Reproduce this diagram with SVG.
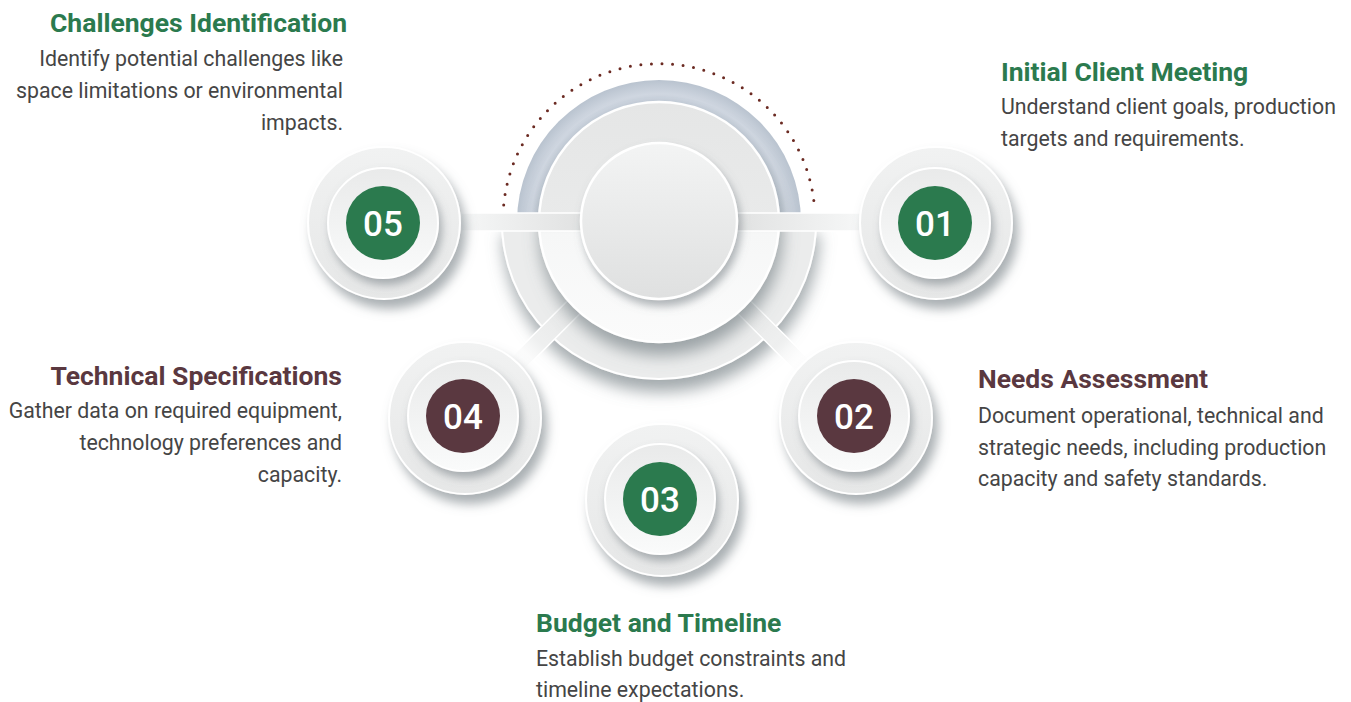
<svg xmlns="http://www.w3.org/2000/svg" width="1351" height="702" viewBox="0 0 1351 702">
<style>
.title{font-family:Roboto,"Liberation Sans",sans-serif;font-weight:700;font-size:26.5px}
.green{fill:#2b7a4e}
.maroon{fill:#5a3840}
.body{font-family:Roboto,"Liberation Sans",sans-serif;font-size:21.3px;fill:#454545}
.num{font-family:Roboto,"Liberation Sans",sans-serif;font-size:35px;font-weight:500;fill:#ffffff;text-anchor:middle}
.outer{fill:url(#gOuter);stroke:#ffffff;stroke-width:2}
.inner{fill:url(#gInner);stroke:#ffffff;stroke-width:2}
</style>
<defs>
<filter id="shSat" x="-40%" y="-40%" width="180%" height="180%">
<feDropShadow dx="5" dy="9" stdDeviation="5.5" flood-color="#6f7a80" flood-opacity="0.6"/>
</filter>
<filter id="shIn" x="-40%" y="-40%" width="180%" height="180%">
<feDropShadow dx="3" dy="6" stdDeviation="4" flood-color="#6f7a80" flood-opacity="0.55"/>
</filter>
<filter id="shBig" x="-30%" y="-30%" width="160%" height="170%">
<feDropShadow dx="2" dy="12" stdDeviation="8" flood-color="#6f7a80" flood-opacity="0.65"/>
</filter>
<linearGradient id="gOuter" x1="0" y1="0" x2="0" y2="1">
<stop offset="0" stop-color="#f1f2f2"/>
<stop offset="1" stop-color="#e6e7e7"/>
</linearGradient>
<linearGradient id="gInner" x1="0" y1="0" x2="0" y2="1">
<stop offset="0" stop-color="#e9eaea"/>
<stop offset="1" stop-color="#fafbfb"/>
</linearGradient>
<linearGradient id="gMid" x1="0" y1="0" x2="0" y2="1">
<stop offset="0" stop-color="#e5e6e6"/>
<stop offset="0.5" stop-color="#e9eaea"/>
<stop offset="0.55" stop-color="#f6f7f7"/>
<stop offset="1" stop-color="#fbfbfb"/>
</linearGradient>
<linearGradient id="gCenter" x1="0" y1="0" x2="0" y2="1">
<stop offset="0" stop-color="#f3f4f4"/>
<stop offset="1" stop-color="#dfe0e0"/>
</linearGradient>
<radialGradient id="gBlue" cx="659" cy="222" r="142" gradientUnits="userSpaceOnUse">
<stop offset="0.82" stop-color="#bcc6d2"/>
<stop offset="0.9" stop-color="#d0d7e1"/>
<stop offset="1" stop-color="#b9c3cf"/>
</radialGradient>
<linearGradient id="gBarL" x1="0" y1="0" x2="1" y2="0">
<stop offset="0" stop-color="#f6f7f7"/>
<stop offset="1" stop-color="#dfe0e0"/>
</linearGradient>
<linearGradient id="gBarR" x1="0" y1="0" x2="1" y2="0">
<stop offset="0" stop-color="#dfe0e0"/>
<stop offset="1" stop-color="#f6f7f7"/>
</linearGradient>
<linearGradient id="gDiag" x1="0" y1="0" x2="1" y2="0">
<stop offset="0" stop-color="#e2e3e3"/>
<stop offset="0.6" stop-color="#eeefef"/>
<stop offset="1" stop-color="#ffffff" stop-opacity="0"/>
</linearGradient>
<clipPath id="clipLow"><rect x="400" y="222" width="520" height="300"/></clipPath>
<clipPath id="clipUp"><rect x="400" y="0" width="520" height="222"/></clipPath>
</defs>

<g id="hub">
<path d="M 503.7 205 A 156 156 0 0 1 814.7 210" fill="none" stroke="#6b2a22" stroke-width="3" stroke-linecap="round" stroke-dasharray="0 10.6"/>
<g filter="url(#shBig)"><circle cx="659" cy="222" r="157" fill="#ebecec" stroke="#ffffff" stroke-width="2" clip-path="url(#clipLow)"/></g>
<circle cx="659" cy="222" r="142" fill="url(#gBlue)" clip-path="url(#clipUp)"/>
</g>

<g id="connectors">
<g transform="translate(659,222) rotate(135)"><rect x="100" y="-9" width="110" height="18" fill="url(#gDiag)" stroke="#ffffff" stroke-width="1.5"/></g>
<g transform="translate(659,222) rotate(45)"><rect x="100" y="-9" width="110" height="18" fill="url(#gDiag)" stroke="#ffffff" stroke-width="1.5"/></g>
</g>

<g id="hub-core">
<circle cx="659" cy="222" r="120" fill="url(#gMid)" stroke="#ffffff" stroke-width="2.5" filter="url(#shBig)"/>
<rect x="461" y="213" width="130" height="18" fill="url(#gBarL)" stroke="#ffffff" stroke-width="1.5"/>
<rect x="727" y="213" width="133" height="18" fill="url(#gBarR)" stroke="#ffffff" stroke-width="1.5"/>
<circle cx="659" cy="221" r="78" fill="url(#gCenter)" stroke="#ffffff" stroke-width="2.5" filter="url(#shIn)"/>
</g>

<g id="step01">
<circle cx="936" cy="223" r="76" class="outer" filter="url(#shSat)"/>
<circle cx="935" cy="223" r="55" class="inner" filter="url(#shIn)"/>
<circle cx="935" cy="223" r="37" class="green"/>
<text x="935" y="235.5" class="num">01</text>
<text x="1001" y="81" class="title green">Initial Client Meeting</text>
<text x="1001" y="114" class="body">Understand client goals, production</text>
<text x="1001" y="146" class="body">targets and requirements.</text>
</g>

<g id="step02">
<circle cx="856" cy="418" r="76" class="outer" filter="url(#shSat)"/>
<circle cx="854" cy="416" r="55" class="inner" filter="url(#shIn)"/>
<circle cx="854" cy="416" r="37" class="maroon"/>
<text x="854" y="428.5" class="num">02</text>
<text x="978" y="388" class="title maroon">Needs Assessment</text>
<text x="978" y="423" class="body">Document operational, technical and</text>
<text x="978" y="455" class="body">strategic needs, including production</text>
<text x="978" y="486" class="body">capacity and safety standards.</text>
</g>

<g id="step03">
<circle cx="662" cy="500" r="76" class="outer" filter="url(#shSat)"/>
<circle cx="660" cy="499" r="55" class="inner" filter="url(#shIn)"/>
<circle cx="660" cy="499" r="37" class="green"/>
<text x="660" y="511.5" class="num">03</text>
<text x="536" y="632" class="title green">Budget and Timeline</text>
<text x="536" y="666" class="body">Establish budget constraints and</text>
<text x="536" y="697" class="body">timeline expectations.</text>
</g>

<g id="step04">
<circle cx="465" cy="418" r="76" class="outer" filter="url(#shSat)"/>
<circle cx="463" cy="416" r="55" class="inner" filter="url(#shIn)"/>
<circle cx="463" cy="416" r="37" class="maroon"/>
<text x="463" y="428.5" class="num">04</text>
<text x="342" y="385" class="title maroon" text-anchor="end">Technical Specifications</text>
<text x="342" y="418" class="body" text-anchor="end">Gather data on required equipment,</text>
<text x="342" y="450" class="body" text-anchor="end">technology preferences and</text>
<text x="342" y="482" class="body" text-anchor="end">capacity.</text>
</g>

<g id="step05">
<circle cx="384" cy="223" r="76" class="outer" filter="url(#shSat)"/>
<circle cx="383" cy="223" r="55" class="inner" filter="url(#shIn)"/>
<circle cx="383" cy="223" r="37" class="green"/>
<text x="383" y="235.5" class="num">05</text>
<text x="347" y="32" class="title green" text-anchor="end">Challenges Identification</text>
<text x="343" y="66" class="body" text-anchor="end">Identify potential challenges like</text>
<text x="343" y="98" class="body" text-anchor="end">space limitations or environmental</text>
<text x="343" y="130" class="body" text-anchor="end">impacts.</text>
</g>
</svg>
